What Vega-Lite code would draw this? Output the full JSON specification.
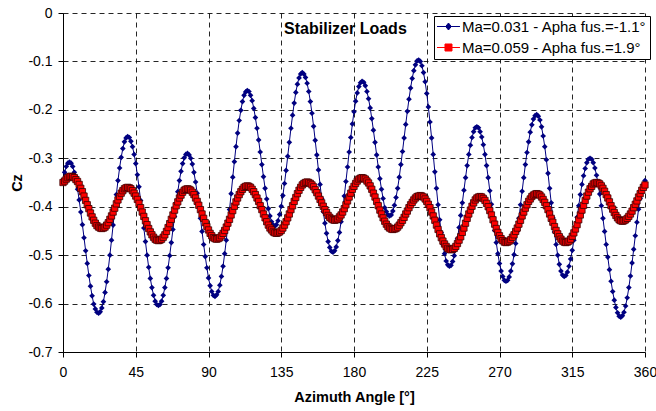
{
  "$schema": "https://vega.github.io/schema/vega-lite/v6.json",
  "width": 582,
  "height": 339,
  "autosize": {"type": "none"},
  "padding": {"left": 63, "top": 13, "right": 11, "bottom": 59},
  "background": "white",
  "config": {
    "font": "Liberation Sans",
    "view": {"stroke": null},
    "axis": {
      "labelFont": "Liberation Sans",
      "labelFontSize": 14,
      "labelColor": "#000",
      "titleFont": "Liberation Sans",
      "titleFontSize": 14.5,
      "titleFontWeight": "bold",
      "titleColor": "#000",
      "domainColor": "#000",
      "domainWidth": 1,
      "tickColor": "#000",
      "tickSize": 5,
      "gridColor": "#000",
      "gridDash": [5, 4],
      "gridOpacity": 0.85,
      "gridWidth": 1
    }
  },
  "data": {
    "values": [
      {"az": 0, "blue": -0.345, "red": -0.350},
      {"az": 1, "blue": -0.329, "red": -0.347},
      {"az": 2, "blue": -0.317, "red": -0.343},
      {"az": 3, "blue": -0.310, "red": -0.340},
      {"az": 4, "blue": -0.308, "red": -0.338},
      {"az": 5, "blue": -0.310, "red": -0.337},
      {"az": 6, "blue": -0.317, "red": -0.338},
      {"az": 7, "blue": -0.329, "red": -0.340},
      {"az": 8, "blue": -0.345, "red": -0.344},
      {"az": 9, "blue": -0.364, "red": -0.348},
      {"az": 10, "blue": -0.386, "red": -0.354},
      {"az": 11, "blue": -0.411, "red": -0.362},
      {"az": 12, "blue": -0.437, "red": -0.369},
      {"az": 13, "blue": -0.464, "red": -0.378},
      {"az": 14, "blue": -0.491, "red": -0.387},
      {"az": 15, "blue": -0.517, "red": -0.396},
      {"az": 16, "blue": -0.542, "red": -0.404},
      {"az": 17, "blue": -0.564, "red": -0.413},
      {"az": 18, "blue": -0.584, "red": -0.421},
      {"az": 19, "blue": -0.601, "red": -0.428},
      {"az": 20, "blue": -0.611, "red": -0.434},
      {"az": 21, "blue": -0.618, "red": -0.439},
      {"az": 22, "blue": -0.620, "red": -0.442},
      {"az": 23, "blue": -0.617, "red": -0.444},
      {"az": 24, "blue": -0.609, "red": -0.445},
      {"az": 25, "blue": -0.596, "red": -0.444},
      {"az": 26, "blue": -0.577, "red": -0.442},
      {"az": 27, "blue": -0.555, "red": -0.438},
      {"az": 28, "blue": -0.529, "red": -0.433},
      {"az": 29, "blue": -0.500, "red": -0.426},
      {"az": 30, "blue": -0.469, "red": -0.419},
      {"az": 31, "blue": -0.438, "red": -0.411},
      {"az": 32, "blue": -0.406, "red": -0.403},
      {"az": 33, "blue": -0.375, "red": -0.394},
      {"az": 34, "blue": -0.346, "red": -0.386},
      {"az": 35, "blue": -0.320, "red": -0.379},
      {"az": 36, "blue": -0.298, "red": -0.372},
      {"az": 37, "blue": -0.280, "red": -0.367},
      {"az": 38, "blue": -0.266, "red": -0.363},
      {"az": 39, "blue": -0.258, "red": -0.361},
      {"az": 40, "blue": -0.255, "red": -0.360},
      {"az": 41, "blue": -0.257, "red": -0.361},
      {"az": 42, "blue": -0.265, "red": -0.363},
      {"az": 43, "blue": -0.276, "red": -0.367},
      {"az": 44, "blue": -0.292, "red": -0.372},
      {"az": 45, "blue": -0.311, "red": -0.378},
      {"az": 46, "blue": -0.334, "red": -0.385},
      {"az": 47, "blue": -0.359, "red": -0.393},
      {"az": 48, "blue": -0.387, "red": -0.402},
      {"az": 49, "blue": -0.415, "red": -0.411},
      {"az": 50, "blue": -0.444, "red": -0.420},
      {"az": 51, "blue": -0.472, "red": -0.429},
      {"az": 52, "blue": -0.500, "red": -0.437},
      {"az": 53, "blue": -0.525, "red": -0.445},
      {"az": 54, "blue": -0.548, "red": -0.452},
      {"az": 55, "blue": -0.567, "red": -0.458},
      {"az": 56, "blue": -0.583, "red": -0.463},
      {"az": 57, "blue": -0.595, "red": -0.467},
      {"az": 58, "blue": -0.602, "red": -0.469},
      {"az": 59, "blue": -0.604, "red": -0.470},
      {"az": 60, "blue": -0.602, "red": -0.469},
      {"az": 61, "blue": -0.595, "red": -0.467},
      {"az": 62, "blue": -0.583, "red": -0.463},
      {"az": 63, "blue": -0.567, "red": -0.458},
      {"az": 64, "blue": -0.548, "red": -0.451},
      {"az": 65, "blue": -0.526, "red": -0.443},
      {"az": 66, "blue": -0.501, "red": -0.435},
      {"az": 67, "blue": -0.474, "red": -0.426},
      {"az": 68, "blue": -0.447, "red": -0.417},
      {"az": 69, "blue": -0.420, "red": -0.407},
      {"az": 70, "blue": -0.393, "red": -0.398},
      {"az": 71, "blue": -0.369, "red": -0.390},
      {"az": 72, "blue": -0.346, "red": -0.382},
      {"az": 73, "blue": -0.327, "red": -0.376},
      {"az": 74, "blue": -0.311, "red": -0.370},
      {"az": 75, "blue": -0.299, "red": -0.366},
      {"az": 76, "blue": -0.292, "red": -0.364},
      {"az": 77, "blue": -0.290, "red": -0.363},
      {"az": 78, "blue": -0.293, "red": -0.364},
      {"az": 79, "blue": -0.300, "red": -0.366},
      {"az": 80, "blue": -0.312, "red": -0.370},
      {"az": 81, "blue": -0.329, "red": -0.375},
      {"az": 82, "blue": -0.349, "red": -0.382},
      {"az": 83, "blue": -0.372, "red": -0.389},
      {"az": 84, "blue": -0.397, "red": -0.397},
      {"az": 85, "blue": -0.424, "red": -0.406},
      {"az": 86, "blue": -0.451, "red": -0.415},
      {"az": 87, "blue": -0.478, "red": -0.424},
      {"az": 88, "blue": -0.503, "red": -0.433},
      {"az": 89, "blue": -0.526, "red": -0.441},
      {"az": 90, "blue": -0.547, "red": -0.448},
      {"az": 91, "blue": -0.563, "red": -0.455},
      {"az": 92, "blue": -0.575, "red": -0.460},
      {"az": 93, "blue": -0.583, "red": -0.464},
      {"az": 94, "blue": -0.585, "red": -0.466},
      {"az": 95, "blue": -0.582, "red": -0.467},
      {"az": 96, "blue": -0.575, "red": -0.466},
      {"az": 97, "blue": -0.562, "red": -0.464},
      {"az": 98, "blue": -0.544, "red": -0.460},
      {"az": 99, "blue": -0.523, "red": -0.455},
      {"az": 100, "blue": -0.497, "red": -0.449},
      {"az": 101, "blue": -0.469, "red": -0.442},
      {"az": 102, "blue": -0.438, "red": -0.434},
      {"az": 103, "blue": -0.406, "red": -0.426},
      {"az": 104, "blue": -0.373, "red": -0.417},
      {"az": 105, "blue": -0.339, "red": -0.408},
      {"az": 106, "blue": -0.307, "red": -0.399},
      {"az": 107, "blue": -0.276, "red": -0.390},
      {"az": 108, "blue": -0.248, "red": -0.382},
      {"az": 109, "blue": -0.222, "red": -0.375},
      {"az": 110, "blue": -0.201, "red": -0.369},
      {"az": 111, "blue": -0.183, "red": -0.364},
      {"az": 112, "blue": -0.170, "red": -0.360},
      {"az": 113, "blue": -0.163, "red": -0.358},
      {"az": 114, "blue": -0.160, "red": -0.357},
      {"az": 115, "blue": -0.162, "red": -0.358},
      {"az": 116, "blue": -0.170, "red": -0.360},
      {"az": 117, "blue": -0.181, "red": -0.364},
      {"az": 118, "blue": -0.197, "red": -0.369},
      {"az": 119, "blue": -0.216, "red": -0.375},
      {"az": 120, "blue": -0.238, "red": -0.382},
      {"az": 121, "blue": -0.262, "red": -0.389},
      {"az": 122, "blue": -0.287, "red": -0.398},
      {"az": 123, "blue": -0.313, "red": -0.406},
      {"az": 124, "blue": -0.338, "red": -0.415},
      {"az": 125, "blue": -0.362, "red": -0.423},
      {"az": 126, "blue": -0.384, "red": -0.431},
      {"az": 127, "blue": -0.404, "red": -0.438},
      {"az": 128, "blue": -0.419, "red": -0.444},
      {"az": 129, "blue": -0.431, "red": -0.448},
      {"az": 130, "blue": -0.438, "red": -0.452},
      {"az": 131, "blue": -0.440, "red": -0.454},
      {"az": 132, "blue": -0.437, "red": -0.455},
      {"az": 133, "blue": -0.429, "red": -0.454},
      {"az": 134, "blue": -0.416, "red": -0.452},
      {"az": 135, "blue": -0.399, "red": -0.449},
      {"az": 136, "blue": -0.377, "red": -0.444},
      {"az": 137, "blue": -0.352, "red": -0.438},
      {"az": 138, "blue": -0.325, "red": -0.431},
      {"az": 139, "blue": -0.296, "red": -0.423},
      {"az": 140, "blue": -0.267, "red": -0.415},
      {"az": 141, "blue": -0.238, "red": -0.406},
      {"az": 142, "blue": -0.211, "red": -0.398},
      {"az": 143, "blue": -0.186, "red": -0.389},
      {"az": 144, "blue": -0.164, "red": -0.381},
      {"az": 145, "blue": -0.147, "red": -0.373},
      {"az": 146, "blue": -0.134, "red": -0.366},
      {"az": 147, "blue": -0.126, "red": -0.360},
      {"az": 148, "blue": -0.123, "red": -0.355},
      {"az": 149, "blue": -0.126, "red": -0.352},
      {"az": 150, "blue": -0.133, "red": -0.350},
      {"az": 151, "blue": -0.145, "red": -0.349},
      {"az": 152, "blue": -0.162, "red": -0.350},
      {"az": 153, "blue": -0.183, "red": -0.352},
      {"az": 154, "blue": -0.207, "red": -0.355},
      {"az": 155, "blue": -0.234, "red": -0.359},
      {"az": 156, "blue": -0.263, "red": -0.365},
      {"az": 157, "blue": -0.293, "red": -0.371},
      {"az": 158, "blue": -0.324, "red": -0.378},
      {"az": 159, "blue": -0.354, "red": -0.385},
      {"az": 160, "blue": -0.383, "red": -0.392},
      {"az": 161, "blue": -0.410, "red": -0.399},
      {"az": 162, "blue": -0.434, "red": -0.406},
      {"az": 163, "blue": -0.455, "red": -0.412},
      {"az": 164, "blue": -0.472, "red": -0.418},
      {"az": 165, "blue": -0.484, "red": -0.422},
      {"az": 166, "blue": -0.492, "red": -0.425},
      {"az": 167, "blue": -0.494, "red": -0.427},
      {"az": 168, "blue": -0.491, "red": -0.428},
      {"az": 169, "blue": -0.483, "red": -0.427},
      {"az": 170, "blue": -0.470, "red": -0.425},
      {"az": 171, "blue": -0.453, "red": -0.421},
      {"az": 172, "blue": -0.431, "red": -0.417},
      {"az": 173, "blue": -0.406, "red": -0.411},
      {"az": 174, "blue": -0.378, "red": -0.404},
      {"az": 175, "blue": -0.348, "red": -0.396},
      {"az": 176, "blue": -0.318, "red": -0.388},
      {"az": 177, "blue": -0.287, "red": -0.380},
      {"az": 178, "blue": -0.257, "red": -0.372},
      {"az": 179, "blue": -0.229, "red": -0.364},
      {"az": 180, "blue": -0.204, "red": -0.358},
      {"az": 181, "blue": -0.182, "red": -0.352},
      {"az": 182, "blue": -0.165, "red": -0.347},
      {"az": 183, "blue": -0.152, "red": -0.343},
      {"az": 184, "blue": -0.144, "red": -0.341},
      {"az": 185, "blue": -0.141, "red": -0.340},
      {"az": 186, "blue": -0.143, "red": -0.341},
      {"az": 187, "blue": -0.150, "red": -0.343},
      {"az": 188, "blue": -0.162, "red": -0.347},
      {"az": 189, "blue": -0.177, "red": -0.351},
      {"az": 190, "blue": -0.196, "red": -0.357},
      {"az": 191, "blue": -0.218, "red": -0.364},
      {"az": 192, "blue": -0.242, "red": -0.372},
      {"az": 193, "blue": -0.267, "red": -0.380},
      {"az": 194, "blue": -0.293, "red": -0.389},
      {"az": 195, "blue": -0.318, "red": -0.398},
      {"az": 196, "blue": -0.342, "red": -0.407},
      {"az": 197, "blue": -0.364, "red": -0.415},
      {"az": 198, "blue": -0.383, "red": -0.423},
      {"az": 199, "blue": -0.402, "red": -0.430},
      {"az": 200, "blue": -0.410, "red": -0.436},
      {"az": 201, "blue": -0.417, "red": -0.441},
      {"az": 202, "blue": -0.419, "red": -0.444},
      {"az": 203, "blue": -0.417, "red": -0.446},
      {"az": 204, "blue": -0.409, "red": -0.447},
      {"az": 205, "blue": -0.397, "red": -0.446},
      {"az": 206, "blue": -0.381, "red": -0.445},
      {"az": 207, "blue": -0.362, "red": -0.442},
      {"az": 208, "blue": -0.339, "red": -0.438},
      {"az": 209, "blue": -0.313, "red": -0.433},
      {"az": 210, "blue": -0.286, "red": -0.428},
      {"az": 211, "blue": -0.258, "red": -0.422},
      {"az": 212, "blue": -0.230, "red": -0.415},
      {"az": 213, "blue": -0.203, "red": -0.409},
      {"az": 214, "blue": -0.178, "red": -0.402},
      {"az": 215, "blue": -0.155, "red": -0.396},
      {"az": 216, "blue": -0.135, "red": -0.391},
      {"az": 217, "blue": -0.119, "red": -0.386},
      {"az": 218, "blue": -0.107, "red": -0.382},
      {"az": 219, "blue": -0.099, "red": -0.379},
      {"az": 220, "blue": -0.097, "red": -0.378},
      {"az": 221, "blue": -0.100, "red": -0.377},
      {"az": 222, "blue": -0.109, "red": -0.378},
      {"az": 223, "blue": -0.123, "red": -0.380},
      {"az": 224, "blue": -0.142, "red": -0.384},
      {"az": 225, "blue": -0.166, "red": -0.389},
      {"az": 226, "blue": -0.194, "red": -0.395},
      {"az": 227, "blue": -0.225, "red": -0.402},
      {"az": 228, "blue": -0.258, "red": -0.411},
      {"az": 229, "blue": -0.292, "red": -0.419},
      {"az": 230, "blue": -0.328, "red": -0.428},
      {"az": 231, "blue": -0.362, "red": -0.438},
      {"az": 232, "blue": -0.396, "red": -0.447},
      {"az": 233, "blue": -0.427, "red": -0.456},
      {"az": 234, "blue": -0.454, "red": -0.464},
      {"az": 235, "blue": -0.478, "red": -0.471},
      {"az": 236, "blue": -0.497, "red": -0.477},
      {"az": 237, "blue": -0.512, "red": -0.482},
      {"az": 238, "blue": -0.520, "red": -0.486},
      {"az": 239, "blue": -0.523, "red": -0.488},
      {"az": 240, "blue": -0.521, "red": -0.489},
      {"az": 241, "blue": -0.513, "red": -0.488},
      {"az": 242, "blue": -0.501, "red": -0.486},
      {"az": 243, "blue": -0.485, "red": -0.482},
      {"az": 244, "blue": -0.466, "red": -0.476},
      {"az": 245, "blue": -0.443, "red": -0.469},
      {"az": 246, "blue": -0.418, "red": -0.462},
      {"az": 247, "blue": -0.392, "red": -0.453},
      {"az": 248, "blue": -0.366, "red": -0.444},
      {"az": 249, "blue": -0.340, "red": -0.434},
      {"az": 250, "blue": -0.315, "red": -0.424},
      {"az": 251, "blue": -0.292, "red": -0.415},
      {"az": 252, "blue": -0.273, "red": -0.407},
      {"az": 253, "blue": -0.257, "red": -0.399},
      {"az": 254, "blue": -0.245, "red": -0.392},
      {"az": 255, "blue": -0.237, "red": -0.386},
      {"az": 256, "blue": -0.235, "red": -0.382},
      {"az": 257, "blue": -0.237, "red": -0.380},
      {"az": 258, "blue": -0.245, "red": -0.379},
      {"az": 259, "blue": -0.256, "red": -0.380},
      {"az": 260, "blue": -0.272, "red": -0.383},
      {"az": 261, "blue": -0.292, "red": -0.387},
      {"az": 262, "blue": -0.315, "red": -0.393},
      {"az": 263, "blue": -0.340, "red": -0.400},
      {"az": 264, "blue": -0.367, "red": -0.408},
      {"az": 265, "blue": -0.395, "red": -0.417},
      {"az": 266, "blue": -0.422, "red": -0.427},
      {"az": 267, "blue": -0.449, "red": -0.436},
      {"az": 268, "blue": -0.474, "red": -0.445},
      {"az": 269, "blue": -0.497, "red": -0.453},
      {"az": 270, "blue": -0.517, "red": -0.460},
      {"az": 271, "blue": -0.533, "red": -0.466},
      {"az": 272, "blue": -0.544, "red": -0.470},
      {"az": 273, "blue": -0.552, "red": -0.473},
      {"az": 274, "blue": -0.554, "red": -0.474},
      {"az": 275, "blue": -0.552, "red": -0.473},
      {"az": 276, "blue": -0.545, "red": -0.471},
      {"az": 277, "blue": -0.533, "red": -0.468},
      {"az": 278, "blue": -0.518, "red": -0.463},
      {"az": 279, "blue": -0.499, "red": -0.458},
      {"az": 280, "blue": -0.476, "red": -0.451},
      {"az": 281, "blue": -0.451, "red": -0.444},
      {"az": 282, "blue": -0.424, "red": -0.436},
      {"az": 283, "blue": -0.396, "red": -0.428},
      {"az": 284, "blue": -0.368, "red": -0.419},
      {"az": 285, "blue": -0.340, "red": -0.411},
      {"az": 286, "blue": -0.313, "red": -0.403},
      {"az": 287, "blue": -0.288, "red": -0.396},
      {"az": 288, "blue": -0.266, "red": -0.389},
      {"az": 289, "blue": -0.246, "red": -0.384},
      {"az": 290, "blue": -0.231, "red": -0.379},
      {"az": 291, "blue": -0.219, "red": -0.376},
      {"az": 292, "blue": -0.212, "red": -0.374},
      {"az": 293, "blue": -0.210, "red": -0.373},
      {"az": 294, "blue": -0.213, "red": -0.374},
      {"az": 295, "blue": -0.221, "red": -0.376},
      {"az": 296, "blue": -0.235, "red": -0.380},
      {"az": 297, "blue": -0.254, "red": -0.385},
      {"az": 298, "blue": -0.276, "red": -0.391},
      {"az": 299, "blue": -0.303, "red": -0.398},
      {"az": 300, "blue": -0.331, "red": -0.406},
      {"az": 301, "blue": -0.362, "red": -0.415},
      {"az": 302, "blue": -0.392, "red": -0.424},
      {"az": 303, "blue": -0.423, "red": -0.432},
      {"az": 304, "blue": -0.452, "red": -0.441},
      {"az": 305, "blue": -0.478, "red": -0.449},
      {"az": 306, "blue": -0.500, "red": -0.456},
      {"az": 307, "blue": -0.519, "red": -0.462},
      {"az": 308, "blue": -0.533, "red": -0.467},
      {"az": 309, "blue": -0.541, "red": -0.471},
      {"az": 310, "blue": -0.544, "red": -0.473},
      {"az": 311, "blue": -0.542, "red": -0.474},
      {"az": 312, "blue": -0.535, "red": -0.473},
      {"az": 313, "blue": -0.523, "red": -0.471},
      {"az": 314, "blue": -0.508, "red": -0.467},
      {"az": 315, "blue": -0.490, "red": -0.461},
      {"az": 316, "blue": -0.469, "red": -0.454},
      {"az": 317, "blue": -0.446, "red": -0.446},
      {"az": 318, "blue": -0.422, "red": -0.437},
      {"az": 319, "blue": -0.398, "red": -0.427},
      {"az": 320, "blue": -0.375, "red": -0.417},
      {"az": 321, "blue": -0.354, "red": -0.407},
      {"az": 322, "blue": -0.336, "red": -0.397},
      {"az": 323, "blue": -0.321, "red": -0.387},
      {"az": 324, "blue": -0.309, "red": -0.378},
      {"az": 325, "blue": -0.302, "red": -0.370},
      {"az": 326, "blue": -0.300, "red": -0.363},
      {"az": 327, "blue": -0.302, "red": -0.358},
      {"az": 328, "blue": -0.309, "red": -0.353},
      {"az": 329, "blue": -0.320, "red": -0.351},
      {"az": 330, "blue": -0.335, "red": -0.350},
      {"az": 331, "blue": -0.353, "red": -0.351},
      {"az": 332, "blue": -0.374, "red": -0.353},
      {"az": 333, "blue": -0.398, "red": -0.357},
      {"az": 334, "blue": -0.424, "red": -0.362},
      {"az": 335, "blue": -0.451, "red": -0.368},
      {"az": 336, "blue": -0.478, "red": -0.375},
      {"az": 337, "blue": -0.504, "red": -0.382},
      {"az": 338, "blue": -0.530, "red": -0.390},
      {"az": 339, "blue": -0.554, "red": -0.398},
      {"az": 340, "blue": -0.575, "red": -0.405},
      {"az": 341, "blue": -0.593, "red": -0.412},
      {"az": 342, "blue": -0.608, "red": -0.418},
      {"az": 343, "blue": -0.619, "red": -0.423},
      {"az": 344, "blue": -0.626, "red": -0.427},
      {"az": 345, "blue": -0.628, "red": -0.429},
      {"az": 346, "blue": -0.625, "red": -0.430},
      {"az": 347, "blue": -0.618, "red": -0.429},
      {"az": 348, "blue": -0.605, "red": -0.427},
      {"az": 349, "blue": -0.588, "red": -0.424},
      {"az": 350, "blue": -0.567, "red": -0.420},
      {"az": 351, "blue": -0.543, "red": -0.415},
      {"az": 352, "blue": -0.516, "red": -0.409},
      {"az": 353, "blue": -0.488, "red": -0.402},
      {"az": 354, "blue": -0.460, "red": -0.395},
      {"az": 355, "blue": -0.432, "red": -0.388},
      {"az": 356, "blue": -0.405, "red": -0.380},
      {"az": 357, "blue": -0.383, "red": -0.373},
      {"az": 358, "blue": -0.366, "red": -0.366},
      {"az": 359, "blue": -0.354, "red": -0.360},
      {"az": 360, "blue": -0.346, "red": -0.355}
    ]
  },
  "encoding": {
    "x": {
      "field": "az",
      "type": "quantitative",
      "scale": {"domain": [0, 360], "nice": false, "zero": false},
      "axis": {
        "values": [0, 45, 90, 135, 180, 225, 270, 315, 360],
        "title": "Azimuth Angle [°]",
        "labelPadding": 8,
        "titlePadding": 11,
        "labelFlush": false
      }
    }
  },
  "layer": [
    {
      "mark": {"type": "line", "strokeWidth": 1},
      "encoding": {
        "y": {
          "field": "blue",
          "type": "quantitative",
          "scale": {"domain": [-0.7, 0], "nice": false, "zero": false},
          "axis": {
            "values": [-0.7, -0.6, -0.5, -0.4, -0.3, -0.2, -0.1, 0],
            "title": "Cz",
            "labelExpr": "datum.value == 0 ? '0' : '-' + format(-datum.value, '.1f')",
            "labelPadding": 6,
            "titlePadding": 3
          }
        },
        "color": {
          "datum": "Ma=0.031 - Apha fus.=-1.1°",
          "type": "nominal",
          "scale": {
            "domain": ["Ma=0.031 - Apha fus.=-1.1°", "Ma=0.059 - Apha fus.=1.9°"],
            "range": ["#000080", "#ff0000"]
          },
          "legend": {
            "orient": "none",
            "legendX": 371,
            "legendY": 3,
            "title": null,
            "padding": 3,
            "strokeColor": "#000",
            "fillColor": "#fff",
            "labelFont": "Liberation Sans",
            "labelFontSize": 15,
            "labelColor": "#000",
            "labelLimit": 400,
            "labelOffset": 10,
            "rowPadding": 5,
            "symbolSize": 196,
            "symbolStrokeWidth": 1,
            "encode": {
              "symbols": {
                "update": {
                  "shape": {"signal": "datum.value === 'Ma=0.031 - Apha fus.=-1.1°' ? 'M-1.07,0H2.21M0.57,-0.5L0.97,0L0.57,0.5L0.17,0Z' : 'M-1.07,0H2.21M0.07,-0.5H1.07V0.5H0.07Z'"},
                  "fill": {"signal": "datum.value === 'Ma=0.031 - Apha fus.=-1.1°' ? '#000080' : '#ff0000'"},
                  "stroke": {"signal": "datum.value === 'Ma=0.031 - Apha fus.=-1.1°' ? '#000080' : '#ff0000'"},
                  "opacity": {"value": 1}
                }
              }
            }
          }
        }
      }
    },
    {
      "mark": {"type": "point", "shape": "diamond", "filled": true, "size": 32, "opacity": 1},
      "encoding": {
        "y": {"field": "blue", "type": "quantitative"},
        "color": {"datum": "Ma=0.031 - Apha fus.=-1.1°", "type": "nominal"}
      }
    },
    {
      "mark": {"type": "line", "strokeWidth": 1},
      "encoding": {
        "y": {"field": "red", "type": "quantitative"},
        "color": {"datum": "Ma=0.059 - Apha fus.=1.9°", "type": "nominal"}
      }
    },
    {
      "mark": {"type": "point", "shape": "square", "filled": true, "size": 40, "opacity": 1, "stroke": "#3a0000", "strokeWidth": 0.8},
      "encoding": {
        "y": {"field": "red", "type": "quantitative"},
        "color": {"datum": "Ma=0.059 - Apha fus.=1.9°", "type": "nominal"}
      }
    },
    {
      "data": {"values": [{"label": "Stabilizer Loads", "az": 174.7, "cz": -0.0434}]},
      "mark": {"type": "text", "font": "Liberation Sans", "fontSize": 16, "fontWeight": "bold", "color": "#000", "align": "center", "baseline": "alphabetic"},
      "encoding": {
        "x": {"field": "az", "type": "quantitative"},
        "y": {"field": "cz", "type": "quantitative"},
        "text": {"field": "label"}
      }
    }
  ]
}
